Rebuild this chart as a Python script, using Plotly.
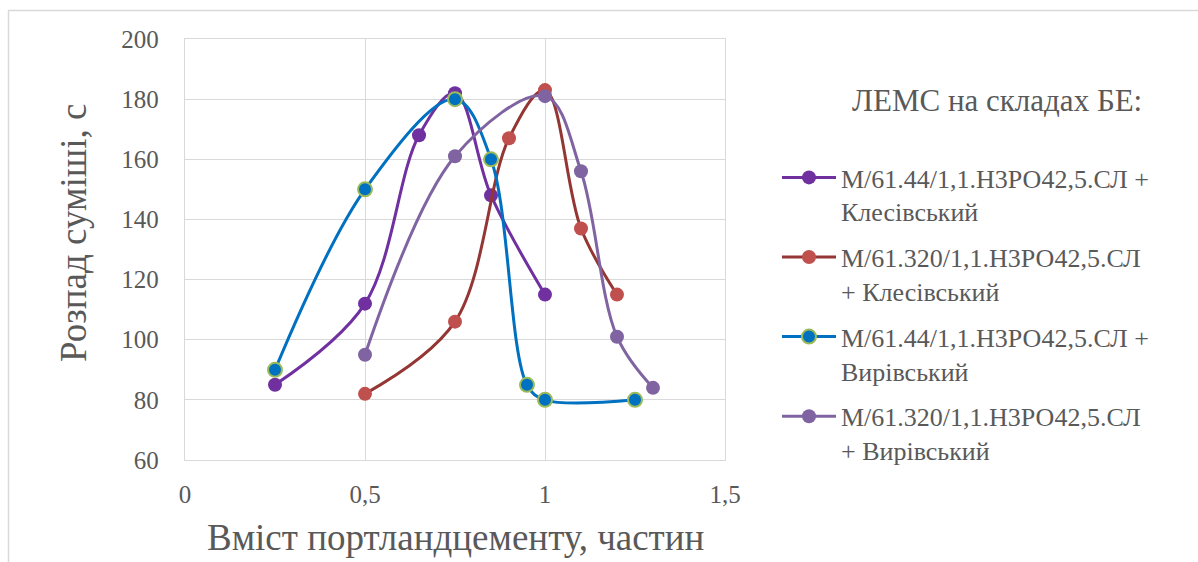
import plotly.graph_objects as go

# data
x1 = [0.25, 0.5, 0.65, 0.75, 0.85, 1.0]
y1 = [85, 112, 168, 182, 148, 115]
x2 = [0.5, 0.75, 0.9, 1.0, 1.1, 1.2]
y2 = [82, 106, 167, 183, 137, 115]
x3 = [0.25, 0.5, 0.75, 0.85, 0.95, 1.0, 1.25]
y3 = [90, 150, 180, 160, 85, 80, 80]
x4 = [0.5, 0.75, 1.0, 1.1, 1.2, 1.3]
y4 = [95, 161, 181, 156, 101, 84]
names = [
    "М/61.44/1,1.Н3РО42,5.СЛ +<br>Клесівський",
    "М/61.320/1,1.Н3РО42,5.СЛ<br>+ Клесівський",
    "М/61.44/1,1.Н3РО42,5.СЛ +<br>Вирівський",
    "М/61.320/1,1.Н3РО42,5.СЛ<br>+ Вирівський",
]
legend_title = "ЛЕМС на складах БЕ:"
x_title = "Вміст портландцементу, частин"
y_title = "Розпад суміші, с"
x_ticks = [0, 0.5, 1, 1.5]
x_ticktext = ["0", "0,5", "1", "1,5"]
y_ticks = [60, 80, 100, 120, 140, 160, 180, 200]

FONT = "Liberation Serif, Times New Roman, serif"
GREY = "#595959"

styles = [
    dict(line=dict(color="#7030A0", width=3, shape="spline", smoothing=1),
         marker=dict(color="#7030A0", size=14)),
    dict(line=dict(color="#943634", width=3, shape="spline", smoothing=1),
         marker=dict(color="#C0504D", size=14)),
    dict(line=dict(color="#0070C0", width=3, shape="spline", smoothing=1),
         marker=dict(color="#0070C0", size=14, line=dict(color="#9BBB59", width=2))),
    dict(line=dict(color="#8064A2", width=3, shape="spline", smoothing=1),
         marker=dict(color="#8064A2", size=14)),
]

fig = go.Figure()
for i, (xs, ys, nm, st) in enumerate(zip([x1, x2, x3, x4], [y1, y2, y3, y4], names, styles)):
    fig.add_trace(go.Scatter(x=xs, y=ys, name=nm, mode="lines+markers",
                             legendgroup=f"g{i}", **st))

L, R, T, B = 185, 725, 39, 460
W, H = 1198, 562
def px(xp):
    return (xp - L) / (R - L)
def py(yp):
    return (B - yp) / (B - T)

fig.update_layout(
    width=W, height=H,
    margin=dict(l=L, r=W - R, t=T, b=H - B),
    paper_bgcolor="white", plot_bgcolor="white",
    font=dict(family=FONT, color=GREY, size=22),
    showlegend=True,
    legend=dict(
        x=px(777), y=py(154), xanchor="left", yanchor="top",
        font=dict(family=FONT, size=26, color=GREY),
        itemwidth=54, tracegroupgap=9, bgcolor="rgba(0,0,0,0)",
        valign="top",
    ),
    xaxis=dict(
        range=[0, 1.5], tickvals=x_ticks, ticktext=x_ticktext,
        showgrid=True, gridcolor="#D9D9D9", gridwidth=1.3,
        showline=True, linecolor="#D9D9D9", linewidth=1.3, mirror=True,
        zeroline=False, ticks="", ticklabelstandoff=12,
        tickfont=dict(family=FONT, size=25, color=GREY),
    ),
    yaxis=dict(
        range=[60, 200], tickvals=y_ticks,
        showgrid=True, gridcolor="#D9D9D9", gridwidth=1.3,
        showline=True, linecolor="#D9D9D9", linewidth=1.3, mirror=True,
        zeroline=False, ticks="", ticklabelstandoff=20,
        tickfont=dict(family=FONT, size=25, color=GREY),
    ),
    annotations=[
        dict(text=legend_title, xref="paper", yref="paper",
             x=px(997), y=py(100), xanchor="center", yanchor="middle",
             showarrow=False, font=dict(family=FONT, size=31, color=GREY)),
        dict(text=x_title, xref="paper", yref="paper",
             x=px(455), y=py(537), xanchor="center", yanchor="middle",
             showarrow=False, font=dict(family=FONT, size=37, color=GREY)),
        dict(text=y_title, xref="paper", yref="paper", textangle=-90,
             x=px(73), y=py(233), xanchor="center", yanchor="middle",
             showarrow=False, font=dict(family=FONT, size=37, color=GREY)),
    ],
    shapes=[
        dict(type="line", xref="paper", yref="paper", x0=px(8), x1=px(1198),
             y0=py(10.5), y1=py(10.5), line=dict(color="#D9D9D9", width=1.5)),
        dict(type="line", xref="paper", yref="paper", x0=px(8.5), x1=px(8.5),
             y0=py(10.5), y1=py(562), line=dict(color="#D9D9D9", width=1.5)),
    ],
)

fig.write_html("out.html")
